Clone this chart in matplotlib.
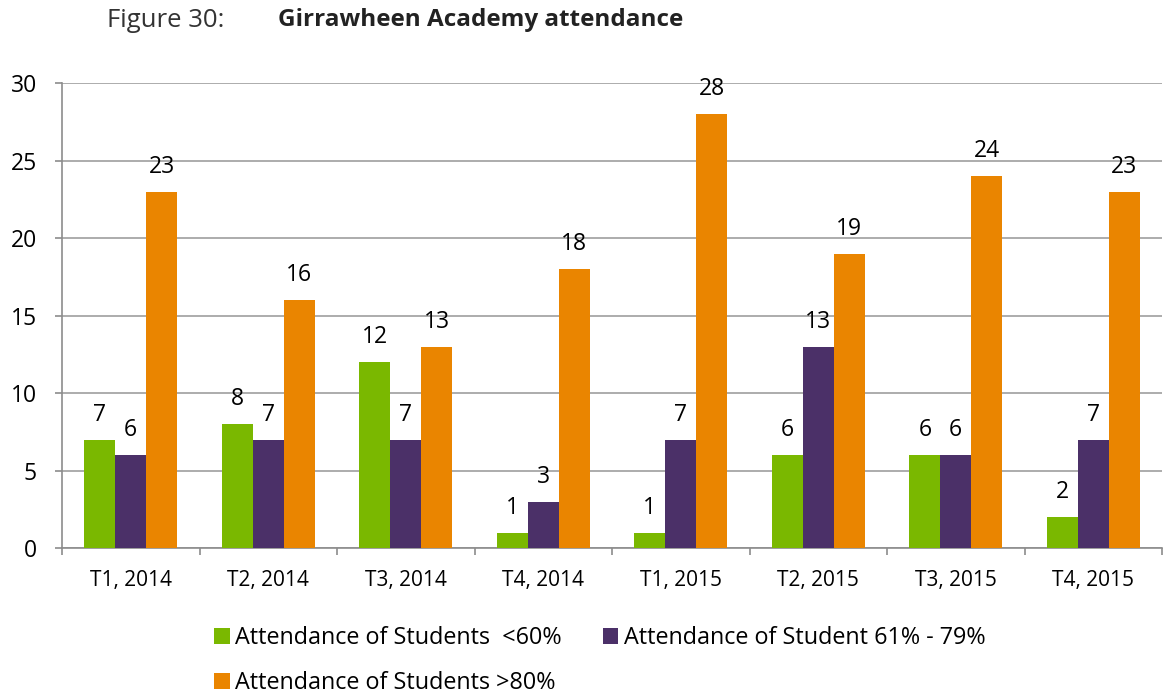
import matplotlib.pyplot as plt
import numpy as np

# data
terms = ["T1, 2014", "T2, 2014", "T3, 2014", "T4, 2014",
         "T1, 2015", "T2, 2015", "T3, 2015", "T4, 2015"]
below_60 = [7, 8, 12, 1, 1, 6, 6, 2]
from_61_79 = [6, 7, 7, 3, 7, 13, 6, 7]
above_80 = [23, 16, 13, 18, 28, 19, 24, 23]

series_names = ["Attendance of Students  <60%",
                "Attendance of Student 61% - 79%",
                "Attendance of Students >80%"]
colors = ["#7AB800", "#4B3068", "#EA8500"]

plt.rcParams['font.family'] = ['Open Sans', 'DejaVu Sans']

fig = plt.figure(figsize=(11.72, 6.98), dpi=100)
ax = fig.add_axes([0.0529, 0.2149, 0.9386, 0.6661])

x = np.arange(len(terms))
w = 0.225
bars = []
for i, vals in enumerate([below_60, from_61_79, above_80]):
    b = ax.bar(x + (i - 1) * w, vals, w, color=colors[i], label=series_names[i], zorder=3)
    bars.append(b)
    for xi, v in zip(x + (i - 1) * w, vals):
        ax.annotate(str(v), (xi, v), xytext=(0, 18), textcoords='offset points',
                    ha='center', va='center', fontsize=16.5, color='black')

ax.set_xlim(-0.5, len(terms) - 0.5)
ax.set_ylim(0, 30)
ax.set_yticks(range(0, 31, 5))
ax.set_xticks(x)
ax.set_xticklabels(terms, fontsize=15)
ax.set_xticks(np.arange(-0.5, len(terms), 1), minor=True)
ax.tick_params(axis='x', which='major', length=0, pad=16)
ax.tick_params(axis='x', which='minor', length=5, color='#8C8C8C', width=1.2)
ax.tick_params(axis='y', labelsize=16.5, length=5, color='#8C8C8C', width=1.2, pad=13)
ax.yaxis.grid(True, color='#A6A6A6', linewidth=1.3, zorder=0)
for s in ['top', 'right']:
    ax.spines[s].set_visible(False)
for s in ['left', 'bottom']:
    ax.spines[s].set_color('#8C8C8C')
    ax.spines[s].set_linewidth(1.2)

fig.text(0.0913, 0.971, "Figure 30:", fontsize=18.5, va='center', color='#333333')
fig.text(0.2372, 0.971, "Girrawheen Academy attendance", fontsize=17.5,
         fontweight='bold', va='center', color='#222222')

# reorder so the legend reads row by row
handles = [bars[0], bars[2], bars[1]]
labels = [series_names[0], series_names[2], series_names[1]]
fig.legend(handles, labels, loc='upper left', bbox_to_anchor=(0.165, 0.133),
           ncol=2, frameon=False, fontsize=16.8, handlelength=0.65, handleheight=0.65,
           handletextpad=0.25, columnspacing=1.75, labelspacing=0.9)

fig.savefig("out.png", dpi=100)
